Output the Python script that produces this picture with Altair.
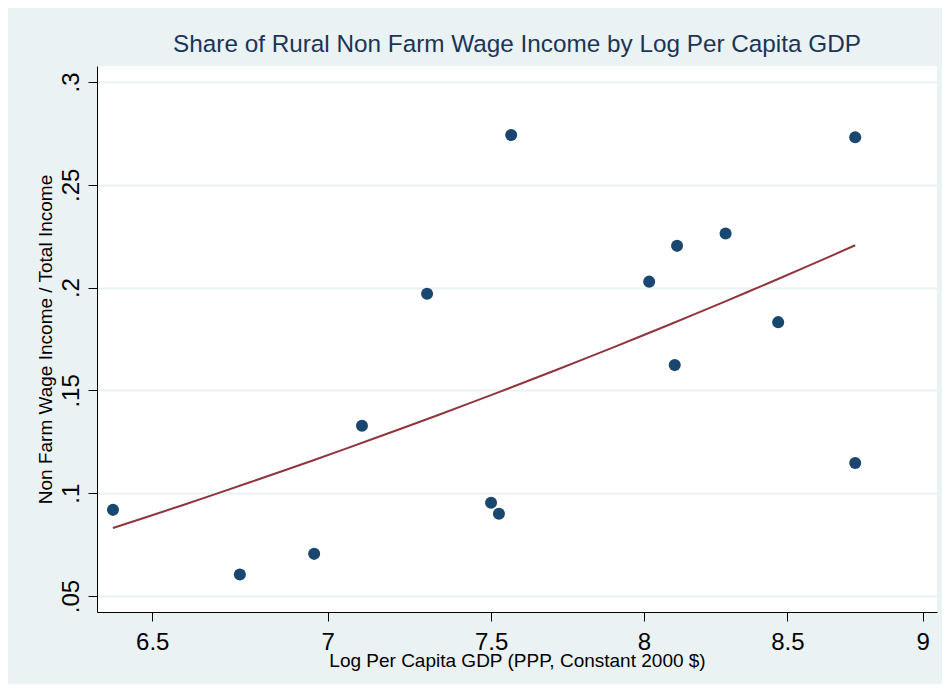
import altair as alt
import pandas as pd

# Data
log_gdp = [6.393, 6.745, 6.960, 7.102, 7.300, 7.500, 7.525, 7.564,
           8.018, 8.113, 8.105, 8.281, 8.467, 8.747, 8.747]
wage_share = [0.0919, 0.0605, 0.0705, 0.1328, 0.1970, 0.0954, 0.0900, 0.2742,
              0.2029, 0.2203, 0.1623, 0.2263, 0.1832, 0.2731, 0.1147]
x_ticks = [6.5, 7, 7.5, 8, 8.5, 9]
y_ticks = [0.05, 0.10, 0.15, 0.20, 0.25, 0.30]

df = pd.DataFrame({"x": log_gdp, "y": wage_share})

FONT = "Liberation Sans"
BG = "#EAF2F3"

xscale = alt.Scale(type="log", domain=[6.350, 9.0545], nice=False, zero=False)
yscale = alt.Scale(domain=[0.04222, 0.30778], nice=False, zero=False)

xaxis = alt.Axis(
    title="Log Per Capita GDP (PPP, Constant 2000 $)",
    values=x_ticks, format=".1~f", grid=False,
    labelFontSize=24, labelFont=FONT, labelColor="#000000",
    labelBaseline="alphabetic", labelPadding=28, labelFlush=False,
    labelOverlap=False,
    tickSize=9, tickColor="#000000", tickWidth=1,
    domainColor="#000000", domainWidth=1,
    titleFont=FONT, titleFontSize=19, titleFontWeight="normal",
    titleColor="#000000", titleBaseline="alphabetic", titleAlign="center",
    titleX=420, titleY=54,
)

yaxis = alt.Axis(
    title="Non Farm Wage Income / Total Income",
    values=y_ticks, labelExpr="substring(format(datum.value, '.2~f'), 1)",
    grid=True, gridColor=BG, gridWidth=2,
    labelFontSize=24, labelFont=FONT, labelColor="#000000",
    labelAngle=270, labelAlign="center", labelBaseline="alphabetic",
    labelPadding=10, labelOverlap=False, labelFlush=False,
    tickSize=9, tickColor="#000000", tickWidth=1,
    domainColor="#000000", domainWidth=1,
    titleFont=FONT, titleFontSize=19, titleFontWeight="normal",
    titleColor="#000000", titleAngle=270, titleAlign="center",
    titleBaseline="alphabetic", titleX=-46, titleY=273,
)

base = alt.Chart(df)

points = base.mark_point(filled=True, size=145, opacity=1, color="#1A476F").encode(
    x=alt.X("x:Q", scale=xscale, axis=xaxis),
    y=alt.Y("y:Q", scale=yscale, axis=yaxis),
)

fit = base.transform_regression("x", "y", method="poly", order=1).mark_line(
    color="#90353B", strokeWidth=2
).encode(
    x=alt.X("x:Q", scale=xscale),
    y=alt.Y("y:Q", scale=yscale),
)

chart = alt.layer(fit, points).properties(
    width=840,
    height=546,
    background=BG,
    padding={"left": 89, "top": 58, "right": 5, "bottom": 72},
    autosize=alt.AutoSizeParams(type="none"),
    title=alt.Title(
        "Share of Rural Non Farm Wage Income by Log Per Capita GDP",
        font=FONT, fontSize=24.3, fontWeight="normal", color="#1C3557",
        anchor="middle", baseline="alphabetic", offset=10, dy=20,
    ),
).configure_view(fill="white", stroke=None)

chart.save("out.html", embed_options={"renderer": "svg", "actions": False})
